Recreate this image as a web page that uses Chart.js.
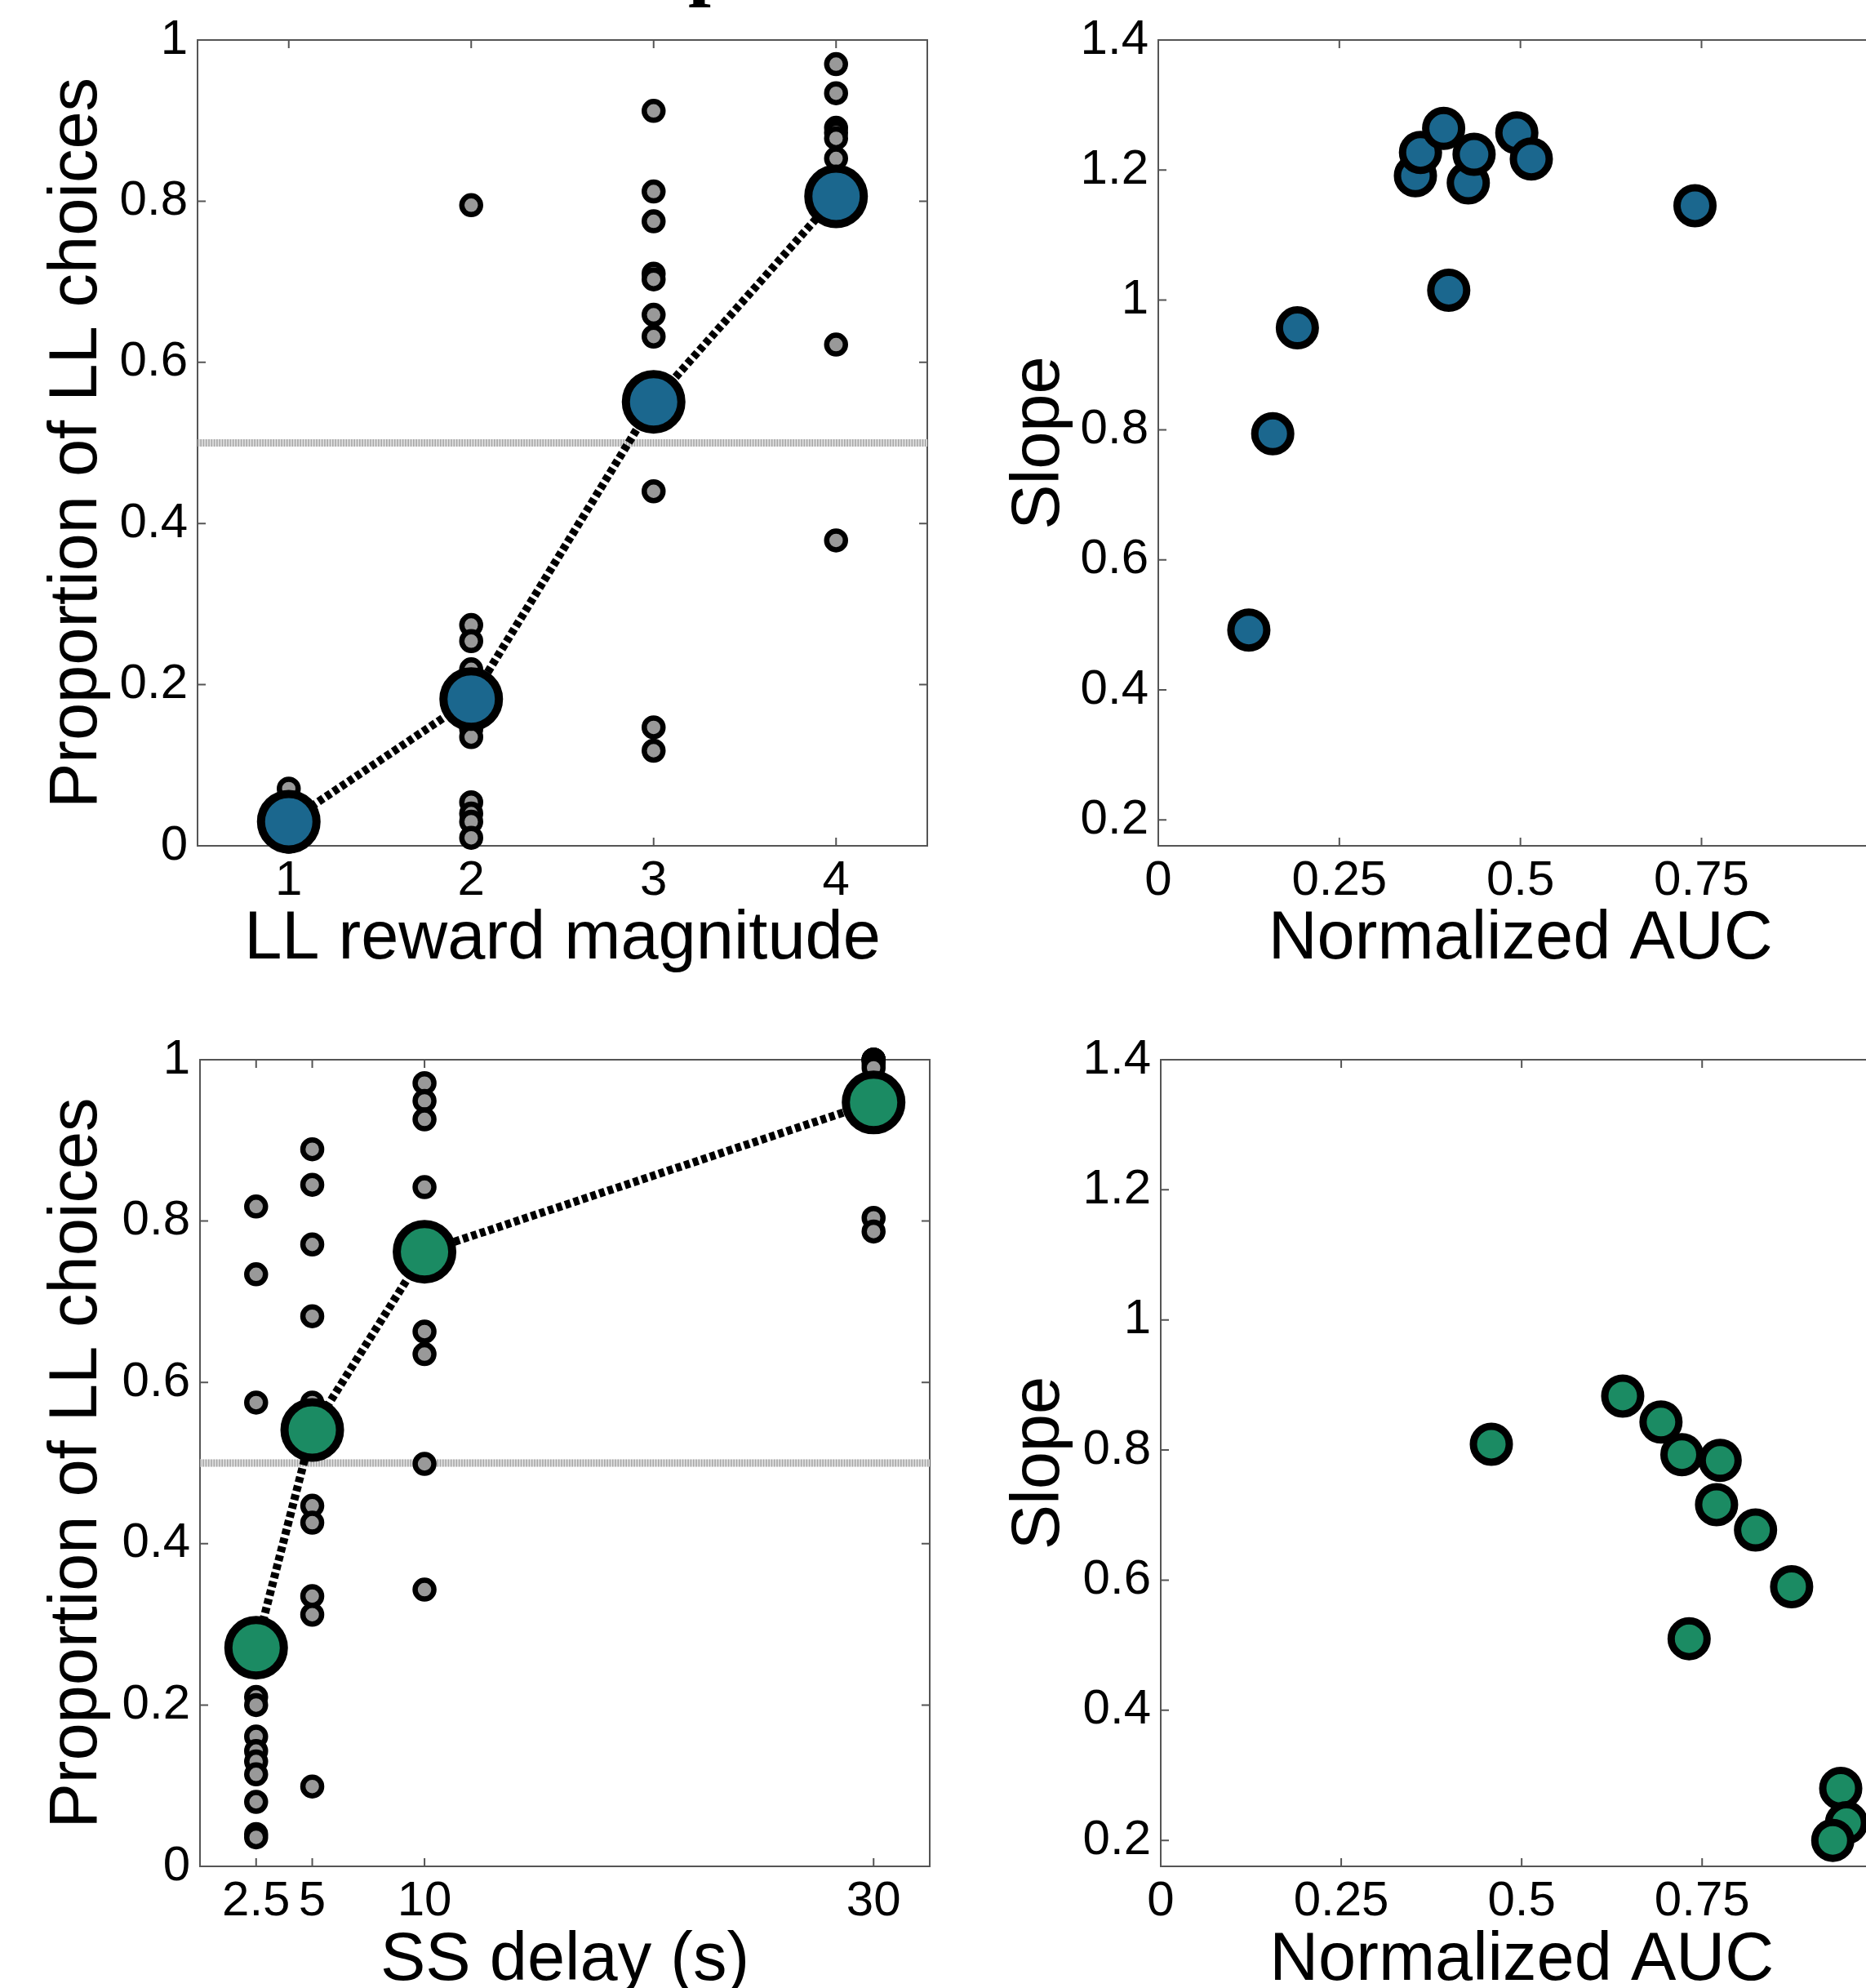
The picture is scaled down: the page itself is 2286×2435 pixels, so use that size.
<!DOCTYPE html>
<html>
<head>
<meta charset="utf-8">
<script src="https://cdn.jsdelivr.net/npm/chart.js@4.4.1/dist/chart.umd.min.js"></script>
<style>
  html, body { margin: 0; padding: 0; width: 2286px; height: 2435px; overflow: hidden; background: #fff; }
  canvas { position: absolute; }
  #cut-title { position: absolute; left: 843px; top: -95px; font: bold 100px/100px 'Liberation Serif', serif; color: #000; }
</style>
</head>
<body>
<div id="cut-title">p</div>
<canvas id="magChoice" width="1150" height="1215" style="left:0;top:0"></canvas>
<canvas id="magSlope" width="1180" height="1215" style="left:1150px;top:0"></canvas>
<canvas id="delayChoice" width="1150" height="1260" style="left:0;top:1220px"></canvas>
<canvas id="delaySlope" width="1180" height="1260" style="left:1150px;top:1220px"></canvas>
<script>
// --- data ---
const magnitudeLevels = [1, 2, 3, 4];
const magnitudeSubjects = [
  [0.071, 0.05, 0.04, 0.035, 0.03, 0.025, 0.02, 0.02, 0.015, 0.01, 0.01, 0.005],
  [0.795, 0.274, 0.254, 0.219, 0.2, 0.18, 0.145, 0.135, 0.054, 0.04, 0.03, 0.01],
  [0.912, 0.812, 0.775, 0.71, 0.703, 0.659, 0.632, 0.55, 0.54, 0.44, 0.147, 0.118],
  [0.97, 0.934, 0.891, 0.885, 0.878, 0.853, 0.82, 0.81, 0.8, 0.79, 0.622, 0.379]
];
const magnitudeMeans = [0.03, 0.182, 0.551, 0.806];

const delayLevels = [2.5, 5, 10, 30];
const delaySubjects = [
  [0.818, 0.734, 0.575, 0.21, 0.2, 0.161, 0.143, 0.13, 0.114, 0.08, 0.04, 0.036],
  [0.889, 0.845, 0.771, 0.682, 0.575, 0.56, 0.55, 0.447, 0.426, 0.335, 0.312, 0.099],
  [0.971, 0.949, 0.926, 0.842, 0.78, 0.77, 0.76, 0.75, 0.663, 0.635, 0.499, 0.343],
  [1.0, 1.0, 1.0, 1.0, 0.995, 0.99, 0.97, 0.96, 0.95, 0.94, 0.804, 0.787]
];
const delayMeans = [0.271, 0.541, 0.762, 0.947];

const magnitudeAUC   = [0.125, 0.158, 0.192, 0.355, 0.362, 0.394, 0.401, 0.428, 0.436, 0.495, 0.515, 0.741];
const magnitudeSlope = [0.492, 0.794, 0.957, 1.191, 1.227, 1.264, 1.015, 1.18, 1.224, 1.257, 1.217, 1.145];
const delayAUC   = [0.458, 0.640, 0.693, 0.722, 0.775, 0.770, 0.824, 0.874, 0.732, 0.942, 0.950, 0.931];
const delaySlope = [0.809, 0.883, 0.843, 0.793, 0.784, 0.716, 0.677, 0.590, 0.510, 0.280, 0.227, 0.200];

const chanceLevel = 0.5;

// axis ticks and limits
const propTicks = [0, 0.2, 0.4, 0.6, 0.8, 1];
const magnitudeTicks = [1, 2, 3, 4];
const magnitudeRange = [0.5, 4.5];
const delayTicks = [2.5, 5, 10, 30];
const delayRange = [0, 32.5];
const aucTicks = [0, 0.25, 0.5, 0.75, 1];
const aucRange = [0, 1];
const slopeTicks = [0.2, 0.4, 0.6, 0.8, 1, 1.2, 1.4];
const slopeRange = [0.16, 1.4];

const blue = '#1b678e';
const green = '#1b8b63';

Chart.defaults.font.family = "'Liberation Sans', Arial, sans-serif";
Chart.defaults.color = '#000';

const tickFont = { size: 60 };
const titleFont = { size: 83 };
const fmt = v => String(+Number(v).toFixed(2));

// matlab style box with inward ticks on every side
const boxPlugin = {
  id: 'matlabBox',
  beforeDatasetsDraw(chart) {
    const { ctx, chartArea: a, scales: { x, y } } = chart;
    ctx.save();
    ctx.strokeStyle = '#555';
    ctx.lineWidth = 2;
    ctx.strokeRect(a.left, a.top, a.right - a.left, a.bottom - a.top);
    ctx.beginPath();
    x.ticks.forEach(t => {
      const px = x.getPixelForValue(t.value);
      ctx.moveTo(px, a.bottom); ctx.lineTo(px, a.bottom - 10);
      ctx.moveTo(px, a.top); ctx.lineTo(px, a.top + 10);
    });
    y.ticks.forEach(t => {
      const py = y.getPixelForValue(t.value);
      ctx.moveTo(a.left, py); ctx.lineTo(a.left + 10, py);
      ctx.moveTo(a.right, py); ctx.lineTo(a.right - 10, py);
    });
    ctx.stroke();
    ctx.restore();
  }
};

function baseOptions(g, xs, ys) {
  return {
    responsive: false,
    animation: false,
    events: [],
    layout: { autoPadding: false, padding: { left: 0, top: g.top, right: g.right, bottom: 0 } },
    plugins: { legend: { display: false }, tooltip: { enabled: false } },
    scales: {
      x: {
        type: 'linear', min: xs.range[0], max: xs.range[1],
        afterBuildTicks: s => { s.ticks = xs.ticks.map(v => ({ value: v })); },
        afterFit: s => { s.height = g.xHeight; },
        grid: { display: false, drawTicks: false, tickLength: 0 },
        border: { display: false },
        ticks: { font: tickFont, padding: 7, maxRotation: 0, autoSkip: false, callback: fmt },
        title: { display: true, text: xs.title, font: titleFont, padding: { top: 0, bottom: g.xTitlePad } }
      },
      y: {
        type: 'linear', min: ys.range[0], max: ys.range[1],
        afterBuildTicks: s => { s.ticks = ys.ticks.map(v => ({ value: v })); },
        afterFit: s => { s.width = g.yWidth; },
        grid: { display: false, drawTicks: false, tickLength: 0 },
        border: { display: false },
        ticks: { font: tickFont, padding: 12, autoSkip: false, callback: fmt },
        title: { display: true, text: ys.title, font: titleFont, padding: { top: g.yTitlePad, bottom: 0 } }
      }
    }
  };
}

function choiceChart(id, levels, subjects, means, color, xTicks, xRange, xTitle, g) {
  const subjectPoints = [];
  levels.forEach((lv, i) => subjects[i].forEach(v => subjectPoints.push({ x: lv, y: v })));
  const meanPoints = levels.map((lv, i) => ({ x: lv, y: means[i] }));
  const chancePoints = xRange.map(v => ({ x: v, y: chanceLevel }));
  return new Chart(document.getElementById(id), {
    type: 'scatter',
    data: {
      datasets: [
        { data: meanPoints, showLine: true, order: 1, clip: false,
          borderColor: '#000', borderWidth: 10, borderDash: [7, 4],
          pointRadius: 34, pointBorderWidth: 10, pointBackgroundColor: color, pointBorderColor: '#000' },
        { data: subjectPoints, order: 2, clip: false,
          pointRadius: 11.5, pointBorderWidth: 6.5, pointBackgroundColor: '#999', pointBorderColor: '#000' },
        // chance line: light band with fine darker stripes
        { data: chancePoints, showLine: true, order: 3,
          borderColor: '#a8a8a8', borderWidth: 9, borderDash: [1.6, 1.7], pointRadius: 0 },
        { data: chancePoints, showLine: true, order: 4,
          borderColor: '#e2e2e2', borderWidth: 9, pointRadius: 0 }
      ]
    },
    options: baseOptions(g,
      { range: xRange, ticks: xTicks, title: xTitle },
      { range: [0, 1], ticks: propTicks, title: 'Proportion of LL choices' }),
    plugins: [boxPlugin]
  });
}

function slopeChart(id, auc, slope, color, g) {
  const pts = auc.map((a, i) => ({ x: a, y: slope[i] }));
  return new Chart(document.getElementById(id), {
    type: 'scatter',
    data: {
      datasets: [{ data: pts, clip: false, pointRadius: 22, pointBorderWidth: 9,
        pointBackgroundColor: color, pointBorderColor: '#000' }]
    },
    options: baseOptions(g,
      { range: aucRange, ticks: aucTicks, title: 'Normalized AUC' },
      { range: slopeRange, ticks: slopeTicks, title: 'Slope' }),
    plugins: [boxPlugin]
  });
}

choiceChart('magChoice', magnitudeLevels, magnitudeSubjects, magnitudeMeans, blue,
  magnitudeTicks, magnitudeRange, 'LL reward magnitude',
  { top: 49, right: 14, yWidth: 242, xHeight: 179, yTitlePad: 45, xTitlePad: 14 });

slopeChart('magSlope', magnitudeAUC, magnitudeSlope, blue,
  { top: 49, right: 17, yWidth: 269, xHeight: 179, yTitlePad: 74, xTitlePad: 14 });

choiceChart('delayChoice', delayLevels, delaySubjects, delayMeans, green,
  delayTicks, delayRange, 'SS delay (s)',
  { top: 78, right: 11, yWidth: 245, xHeight: 194, yTitlePad: 45, xTitlePad: 28 });

slopeChart('delaySlope', delayAUC, delaySlope, green,
  { top: 78, right: 13, yWidth: 272, xHeight: 194, yTitlePad: 74, xTitlePad: 28 });
</script>
</body>
</html>
